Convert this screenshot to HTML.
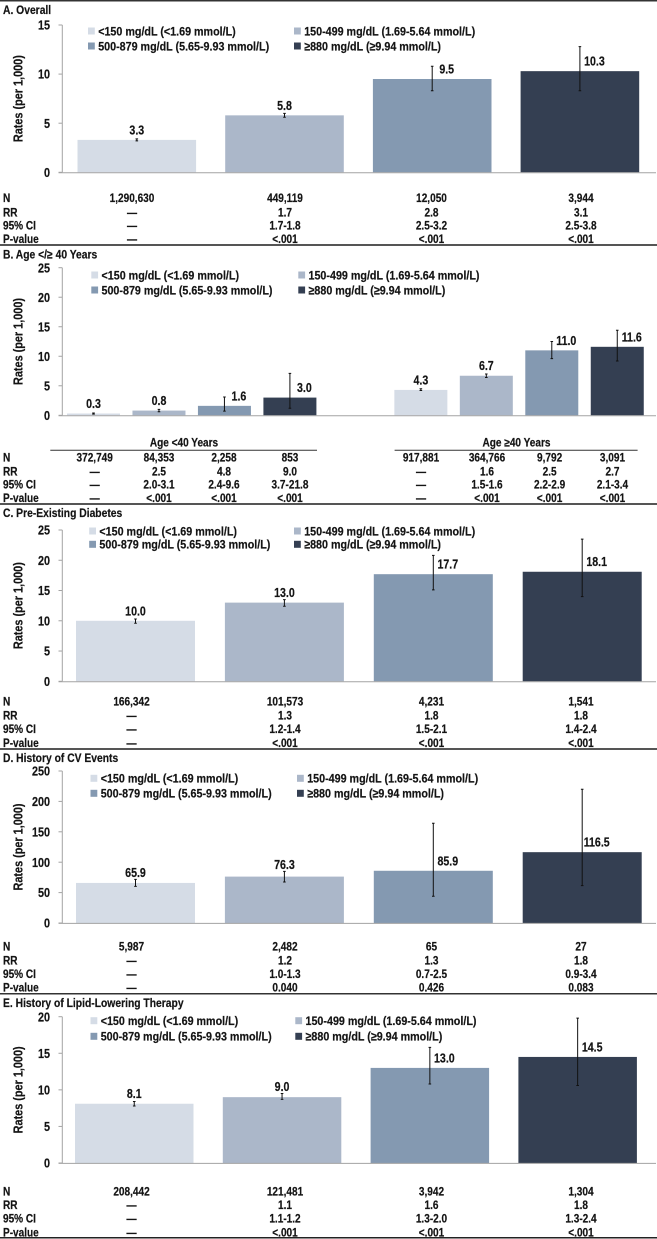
<!DOCTYPE html>
<html lang="en">
<head>
<meta charset="utf-8">
<title>Rates per 1,000 by triglyceride category</title>
<style>
html,body{margin:0;padding:0;background:#fff;}
svg{display:block;filter:blur(0.35px);}
text{font-family:"Liberation Sans",Arial,sans-serif;font-weight:bold;fill:#141414;stroke:#141414;stroke-width:0.2px;}
</style>
</head>
<body>
<svg id="figure" xmlns="http://www.w3.org/2000/svg" width="657" height="1239" viewBox="0 0 657 1239"></svg>
<script>
// ---------- Shared labels ----------
const legendLabels = ['<150 mg/dL (<1.69 mmol/L)', '150-499 mg/dL (1.69-5.64 mmol/L)', '500-879 mg/dL (5.65-9.93 mmol/L)', '\u2265880 mg/dL (\u22659.94 mmol/L)'];
const rowLabels = ['N', 'RR', '95% CI', 'P-value'];

// ---------- Panel A ----------
const aValues = [3.3, 5.8, 9.5, 10.3];
const aLow = [3.2, 5.6, 8.3, 8.3];
const aHigh = [3.4, 6.0, 10.8, 12.8];
const aTicks = [0, 5, 10, 15];
const aN = ['1,290,630', '449,119', '12,050', '3,944'];
const aRR = ['\u2014', '1.7', '2.8', '3.1'];
const aCI = ['\u2014', '1.7-1.8', '2.5-3.2', '2.5-3.8'];
const aP = ['\u2014', '<.001', '<.001', '<.001'];

// ---------- Panel B (null marks the gap between the age groups) ----------
const bValues = [0.3, 0.8, 1.6, 3.0, null, 4.3, 6.7, 11.0, 11.6];
const bLow = [0.2, 0.6, 0.7, 1.2, null, 4.2, 6.4, 9.6, 9.2];
const bHigh = [0.4, 1.0, 3.1, 7.1, null, 4.5, 7.0, 12.5, 14.4];
const bTicks = [0, 5, 10, 15, 20, 25];
const bGroups = ['Age <40 Years', 'Age \u226540 Years'];
const bN = ['372,749', '84,353', '2,258', '853', '917,881', '364,766', '9,792', '3,091'];
const bRR = ['\u2014', '2.5', '4.8', '9.0', '\u2014', '1.6', '2.5', '2.7'];
const bCI = ['\u2014', '2.0-3.1', '2.4-9.6', '3.7-21.8', '\u2014', '1.5-1.6', '2.2-2.9', '2.1-3.4'];
const bP = ['\u2014', '<.001', '<.001', '<.001', '\u2014', '<.001', '<.001', '<.001'];

// ---------- Panel C ----------
const cValues = [10.0, 13.0, 17.7, 18.1];
const cLow = [9.6, 12.4, 15.1, 14.0];
const cHigh = [10.3, 13.5, 20.8, 23.5];
const cTicks = [0, 5, 10, 15, 20, 25];
const cN = ['166,342', '101,573', '4,231', '1,541'];
const cRR = ['\u2014', '1.3', '1.8', '1.8'];
const cCI = ['\u2014', '1.2-1.4', '1.5-2.1', '1.4-2.4'];
const cP = ['\u2014', '<.001', '<.001', '<.001'];

// ---------- Panel D ----------
const dValues = [65.9, 76.3, 85.9, 116.5];
const dLow = [60.3, 67.4, 44, 61.4];
const dHigh = [71.8, 85, 164, 220];
const dTicks = [0, 50, 100, 150, 200, 250];
const dN = ['5,987', '2,482', '65', '27'];
const dRR = ['\u2014', '1.2', '1.3', '1.8'];
const dCI = ['\u2014', '1.0-1.3', '0.7-2.5', '0.9-3.4'];
const dP = ['\u2014', '0.040', '0.426', '0.083'];

// ---------- Panel E ----------
const eValues = [8.1, 9.0, 13.0, 14.5];
const eLow = [7.8, 8.7, 10.8, 10.6];
const eHigh = [8.4, 9.5, 15.8, 19.8];
const eTicks = [0, 5, 10, 15, 20];
const eN = ['208,442', '121,481', '3,942', '1,304'];
const eRR = ['\u2014', '1.1', '1.6', '1.8'];
const eCI = ['\u2014', '1.1-1.2', '1.3-2.0', '1.3-2.4'];
const eP = ['\u2014', '<.001', '<.001', '<.001'];

const seriesColors = ['#d5dce6', '#abb7c9', '#8499b1', '#343f52'];

const SVG_NS = 'http://www.w3.org/2000/svg';
const root = document.getElementById('figure');

function shape(parent, tag, attrs) {
  const el = document.createElementNS(SVG_NS, tag);
  for (const k in attrs) el.setAttribute(k, attrs[k]);
  parent.appendChild(el);
  return el;
}
function label(parent, str, x, y, size, anchor, sx) {
  const el = document.createElementNS(SVG_NS, 'text');
  el.setAttribute('transform', 'translate(' + x + ',' + (y + size * 0.35) + ') scale(' + sx + ',1)');
  el.setAttribute('font-size', size);
  el.setAttribute('text-anchor', anchor);
  el.textContent = str;
  parent.appendChild(el);
  return el;
}
function rule(y, h, color, i) {
  const el = shape(root, 'rect', { x: 0, y: y, width: 657, height: h, fill: color });
  
  
}

function drawPanel(p) {
  const g = shape(root, 'g', {});
  
  

  const title = label(g, p.title, 3, p.titleY, 11.8, 'start', 0.875);
  
  

  const yMax = p.ticks[p.ticks.length - 1];
  const yScale = function (v) { return p.y0 + (p.yTop - p.y0) * v / yMax; };
  const xBand = function (i) { return p.barX + i * p.step; };

  // y axis
  const yAxis = shape(g, 'line', { x1: 62.3, x2: 62.3, y1: p.yTop, y2: p.y0, stroke: '#a3a3a3', 'stroke-width': 1 });
  
  

  p.ticks.forEach(function (t) {
    const tick = shape(g, 'line', { x1: 58.5, x2: 62.3, y1: yScale(t), y2: yScale(t), stroke: '#a3a3a3', 'stroke-width': 1 });
    
    
    const tl = label(g, String(t), 50, yScale(t), 13.2, 'end', 0.82);
    
    
  });

  const axisTitle = document.createElementNS(SVG_NS, 'text');
  axisTitle.setAttribute('transform', 'translate(22.5,' + ((p.y0 + p.yTop) / 2) + ') rotate(-90) scale(0.87,1)');
  axisTitle.setAttribute('font-size', 12.5);
  axisTitle.setAttribute('text-anchor', 'middle');
  axisTitle.textContent = 'Rates (per 1,000)';
  g.appendChild(axisTitle);
  
  

  // bars, error bars, value labels
  p.values.forEach(function (v, i) {
    if (v === null) return;
    const colorIndex = p.values.length > 4 ? (i > 4 ? i - 5 : i) : i;
    const bar = shape(g, 'rect', { x: xBand(i), y: yScale(v), width: p.barW, height: p.y0 - yScale(v), fill: seriesColors[colorIndex] });
    
    

    const cx = xBand(i) + p.barW / 2;
    const top = yScale(p.high[i]);
    const bot = yScale(p.low[i]);
    const err = shape(g, 'path', {
      d: 'M' + (cx - 1.3) + ' ' + top + 'H' + (cx + 1.3) + 'M' + cx + ' ' + top + 'V' + bot + 'M' + (cx - 1.3) + ' ' + bot + 'H' + (cx + 1.3),
      stroke: '#111', 'stroke-width': 1, fill: 'none'
    });
    
    

    const wide = (p.high[i] - v) / yMax > 0.05;
    const lx = wide ? cx + 14.5 : cx;
    const ly = wide ? yScale(v) - 10 : Math.min(yScale(v) - 10, top - 7);
    const val = label(g, v.toFixed(1), lx, ly, 12.8, 'middle', 0.83);
    
    
  });

  // x axis baseline
  const xAxis = shape(g, 'line', { x1: 58.5, x2: 656, y1: p.y0 + 0.4, y2: p.y0 + 0.4, stroke: '#a3a3a3', 'stroke-width': 1 });
  
  

  // legend
  p.legend.forEach(function (txt, i) {
    const col = i % 2;
    const row = i < 2 ? 0 : 1;
    const sw = shape(g, 'rect', { x: p.legendSwatch[col], y: p.legendY[row] - 3.5, width: 6.8, height: 7, fill: seriesColors[i] });
    
    
    const lt = label(g, txt, p.legendSwatch[col] + 10.2, p.legendY[row], 12.2, 'start', 0.88);
    
    
  });

  // table
  p.table.forEach(function (cells, r) {
    const rl = label(g, rowLabels[r], 3, p.rowY[r], 11.5, 'start', 0.875);
    
    
    cells.forEach(function (c, i) {
      const cell = label(g, c, p.cols[i], p.rowY[r], 11.5, 'middle', 0.875);
      
      
    });
  });
}

rule(0, 1.5, '#333', 'top');

drawPanel({
  key: 'a', title: 'A. Overall', titleY: 10, values: aValues, low: aLow, high: aHigh, ticks: aTicks,
  y0: 172.3, yTop: 25, barX: 77.5, step: 147.7, barW: 118.6,
  legend: legendLabels, legendSwatch: [88, 294], legendY: [31, 46],
  table: [aN, aRR, aCI, aP], rowY: [198, 212.3, 225.5, 239], cols: [132, 285, 431.5, 581]
});
rule(244, 2, '#555', 'a-b');

drawPanel({
  key: 'b', title: 'B. Age </\u2265 40 Years', titleY: 254.3, values: bValues, low: bLow, high: bHigh, ticks: bTicks,
  y0: 415.3, yTop: 267.7, barX: 67, step: 65.47, barW: 53,
  legend: legendLabels, legendSwatch: [91.3, 298.3], legendY: [275, 290],
  table: [bN, bRR, bCI, bP], rowY: [457.7, 471.3, 484.3, 498], cols: [94.7, 159, 224, 290, 421, 487, 549.6, 612.5]
});
bGroups.forEach(function (txt, i) {
  const centers = [184, 516.5];
  const lefts = [50.3, 394.6];
  const rights = [317, 637.6];
  const h = label(root, txt, centers[i], 442.3, 11.5, 'middle', 0.875);
  
  
  const l = shape(root, 'line', { x1: lefts[i], x2: rights[i], y1: 450.3, y2: 450.3, stroke: '#333', 'stroke-width': 1 });
  
  
});
rule(503, 2, '#555', 'b-c');

drawPanel({
  key: 'c', title: 'C. Pre-Existing Diabetes', titleY: 513, values: cValues, low: cLow, high: cHigh, ticks: cTicks,
  y0: 681.3, yTop: 530, barX: 76, step: 148.9, barW: 119,
  legend: legendLabels, legendSwatch: [89.2, 294], legendY: [531, 544.3],
  table: [cN, cRR, cCI, cP], rowY: [701.7, 715.3, 729, 743], cols: [131.5, 285, 431.5, 581]
});
rule(748, 2, '#555', 'c-d');

drawPanel({
  key: 'd', title: 'D. History of CV Events', titleY: 758, values: dValues, low: dLow, high: dHigh, ticks: dTicks,
  y0: 923, yTop: 771, barX: 76, step: 148.9, barW: 119,
  legend: legendLabels, legendSwatch: [90.5, 297], legendY: [778.3, 793.3],
  table: [dN, dRR, dCI, dP], rowY: [946.7, 960.3, 974, 987.7], cols: [131.5, 285, 431.5, 581]
});
rule(993, 1.5, '#333', 'd-e');

drawPanel({
  key: 'e', title: 'E. History of Lipid-Lowering Therapy', titleY: 1002.7, values: eValues, low: eLow, high: eHigh, ticks: eTicks,
  y0: 1163, yTop: 1016.7, barX: 75, step: 147.8, barW: 118.5,
  legend: legendLabels, legendSwatch: [90.5, 295.3], legendY: [1020.7, 1036.3],
  table: [eN, eRR, eCI, eP], rowY: [1191.7, 1205, 1218.3, 1232.3], cols: [131.5, 285, 431.5, 581]
});
rule(1237, 1.5, '#222', 'bottom');
</script>
</body>
</html>
